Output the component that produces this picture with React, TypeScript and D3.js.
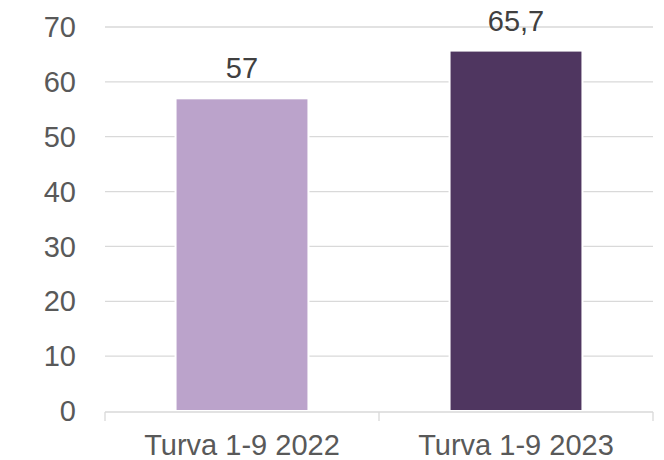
import React, { useEffect, useRef } from 'react';
import * as d3 from 'd3';

const categories = ['Turva 1-9 2022', 'Turva 1-9 2023'];
const values = [57, 65.7];
const valueLabels = ['57', '65,7'];
const barColors = ['#bba3cb', '#4f3660'];
const yTicks = [0, 10, 20, 30, 40, 50, 60, 70];

const App = () => {
  const chartRef = useRef<SVGSVGElement>(null);

  useEffect(() => {
    drawChart();
  }, []);

  const drawChart = () => {
    const width = 664;
    const height = 460;
    const margin = { top: 27, right: 11, bottom: 49, left: 105 };
    const innerW = width - margin.left - margin.right;
    const innerH = height - margin.top - margin.bottom;

    const root = d3.select(chartRef.current);
    root.selectAll('*').remove();

    const svg = root
      .attr('width', width)
      .attr('height', height)
      .append('g')
      .attr('transform', `translate(${margin.left},${margin.top})`);

    const x = d3.scaleBand()
      .domain(categories)
      .range([0, innerW])
      .paddingInner(0.515)
      .paddingOuter(0.2575);

    const y = d3.scaleLinear()
      .domain([0, 70])
      .range([innerH, 0]);

    const font = "'Liberation Sans', Arial, sans-serif";

    // gridlines
    svg.selectAll('line.grid')
      .data(yTicks.filter(t => t > 0))
      .enter()
      .append('line')
      .attr('x1', 0)
      .attr('x2', innerW)
      .attr('y1', d => y(d))
      .attr('y2', d => y(d))
      .attr('stroke', '#d9d9d9')
      .attr('stroke-width', 1.3);

    // y labels
    svg.selectAll('text.ytick')
      .data(yTicks)
      .enter()
      .append('text')
      .attr('x', -29)
      .attr('y', d => y(d))
      .attr('dy', '0.35em')
      .attr('text-anchor', 'end')
      .attr('font-family', font)
      .attr('font-size', 29)
      .attr('fill', '#595959')
      .text(d => d);

    // bars
    svg.selectAll('rect.bar')
      .data(values)
      .enter()
      .append('rect')
      .attr('x', (d, i) => x(categories[i])!)
      .attr('y', d => y(d))
      .attr('width', x.bandwidth())
      .attr('height', d => innerH - y(d))
      .attr('fill', (d, i) => barColors[i])
      .attr('stroke', '#ffffff')
      .attr('stroke-width', 2);

    // value labels
    svg.selectAll('text.val')
      .data(values)
      .enter()
      .append('text')
      .attr('x', (d, i) => x(categories[i])! + x.bandwidth() / 2)
      .attr('y', d => y(d) - 20)
      .attr('text-anchor', 'middle')
      .attr('font-family', font)
      .attr('font-size', 29)
      .attr('fill', '#404040')
      .text((d, i) => valueLabels[i]);

    // x axis with category boundary ticks
    const axis = svg.append('g').attr('transform', `translate(0,${innerH + 1})`);
    axis.append('line')
      .attr('x1', 0)
      .attr('x2', innerW)
      .attr('stroke', '#d9d9d9')
      .attr('stroke-width', 1.3);

    const bounds = [0, ...categories.slice(1).map(c => x(c)! - (x.step() - x.bandwidth()) / 2), innerW];
    axis.selectAll('line.tick')
      .data(bounds)
      .enter()
      .append('line')
      .attr('x1', d => d)
      .attr('x2', d => d)
      .attr('y1', 0)
      .attr('y2', 9)
      .attr('stroke', '#d9d9d9')
      .attr('stroke-width', 1.3);

    axis.selectAll('text.xlab')
      .data(categories)
      .enter()
      .append('text')
      .attr('x', d => x(d)! + x.bandwidth() / 2)
      .attr('y', 43)
      .attr('text-anchor', 'middle')
      .attr('font-family', font)
      .attr('font-size', 29)
      .attr('fill', '#595959')
      .text(d => d);
  };

  return (
    <svg ref={chartRef} style={{ position: 'absolute', left: 0, top: 0 }}></svg>
  );
};

export default App;
